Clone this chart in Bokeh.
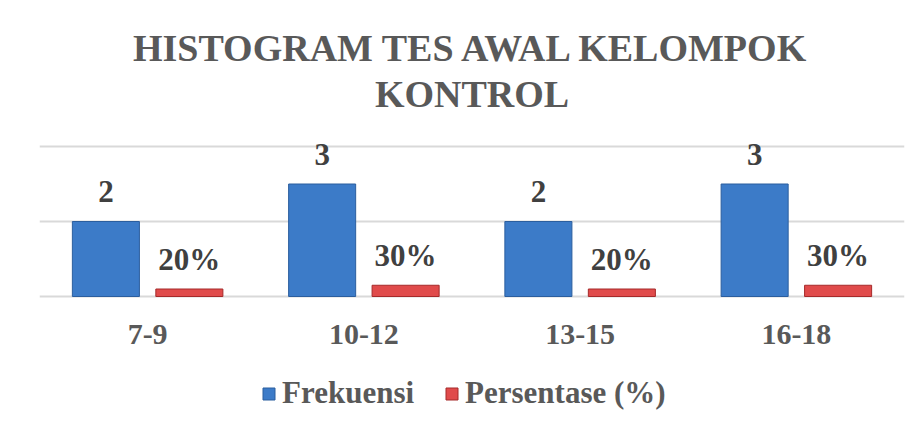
from bokeh.plotting import figure
from bokeh.models import (ColumnDataSource, FactorRange, FixedTicker, Range1d,
                          Legend, LegendItem)
from bokeh.transform import dodge
from bokeh.core.properties import value
from bokeh.embed import file_html
from bokeh.resources import INLINE

# ---- data ----
categories = ["7-9", "10-12", "13-15", "16-18"]
frekuensi = [2, 3, 2, 3]
persentase = [0.2, 0.3, 0.2, 0.3]
frek_labels = ["2", "3", "2", "3"]
pers_labels = ["20%", "30%", "20%", "30%"]
series_names = ["Frekuensi", "Persentase (%)"]
title_lines = ["HISTOGRAM TES AWAL KELOMPOK", "KONTROL"]
grid_ticks = [0, 2, 4]
zeros = [0, 0, 0, 0]

FONT = "Liberation Serif"
GRAY = "#595959"
DARK = "#404040"
BLUE, BLUE_EDGE = "#3C7BC8", "#2B5E9E"
RED, RED_EDGE = "#E04B4B", "#A52A2A"

W, H = 912, 422
LEFT, RIGHT = 39, 8
TOP_GRID_PX = 146          # screen y of the top gridline (value 4)
PX_PER_UNIT = 37.5
Y_END = max(grid_ticks) + TOP_GRID_PX / PX_PER_UNIT
Y_START = Y_END - H / PX_PER_UNIT

src = ColumnDataSource(dict(cat=categories, frek=frekuensi, pers=persentase,
                            frek_lbl=frek_labels, pers_lbl=pers_labels, zero=zeros))

p = figure(x_range=FactorRange(*categories), y_range=Range1d(Y_START, Y_END),
           width=W, height=H, output_backend="svg", toolbar_location=None,
           title=None, x_axis_location=None, y_axis_location=None,
           min_border_left=LEFT, min_border_right=RIGHT, min_border_top=0,
           min_border_bottom=0)
p.outline_line_color = None

# title (two centred lines at the top of the chart)
mid = len(categories) / 2
title_src = ColumnDataSource(dict(x=[mid, mid], y=[Y_END, Y_END], t=title_lines,
                                  dy=[47, 93.5]))
p.text(x="x", y="y", text="t", y_offset="dy", source=title_src,
       text_font=value(FONT), text_font_size="38px", text_font_style="bold",
       text_color=GRAY, text_align="center", text_baseline="alphabetic")

off = 0.193
bw = 0.31
r1 = p.vbar(x=dodge("cat", -off, range=p.x_range), top="frek", width=bw, source=src,
            fill_color=BLUE, line_color=BLUE_EDGE, line_width=1)
r2 = p.vbar(x=dodge("cat", off, range=p.x_range), top="pers", width=bw, source=src,
            fill_color=RED, line_color=RED_EDGE, line_width=1)

lbl_kw = dict(text_font=value(FONT), text_font_size="31px", text_font_style="bold",
              text_color=DARK, text_align="center", text_baseline="alphabetic",
              y_offset=-30, source=src)
p.text(x=dodge("cat", -off, range=p.x_range), y="frek", text="frek_lbl", **lbl_kw)
p.text(x=dodge("cat", off, range=p.x_range), y="pers", text="pers_lbl", **lbl_kw)

# category labels below the zero line
p.text(x="cat", y="zero", text="cat", source=src, text_font=value(FONT),
       text_font_size="30px", text_font_style="bold", text_color=GRAY,
       text_align="center", text_baseline="alphabetic", y_offset=38)

# grid
p.xgrid.grid_line_color = None
p.ygrid.ticker = FixedTicker(ticks=grid_ticks)
p.ygrid.grid_line_color = "#d9d9d9"
p.ygrid.grid_line_width = 2

legend = Legend(items=[LegendItem(label=series_names[0], renderers=[r1]),
                       LegendItem(label=series_names[1], renderers=[r2])],
                orientation="horizontal", location=(222, 11),
                label_text_font=FONT, label_text_font_size="31px",
                label_text_font_style="bold", label_text_color=GRAY,
                glyph_width=15, glyph_height=15, label_standoff=6, spacing=30,
                border_line_color=None, background_fill_alpha=0,
                padding=0, margin=0)
p.add_layout(legend)

open("out.html", "w").write(file_html(p, INLINE))
